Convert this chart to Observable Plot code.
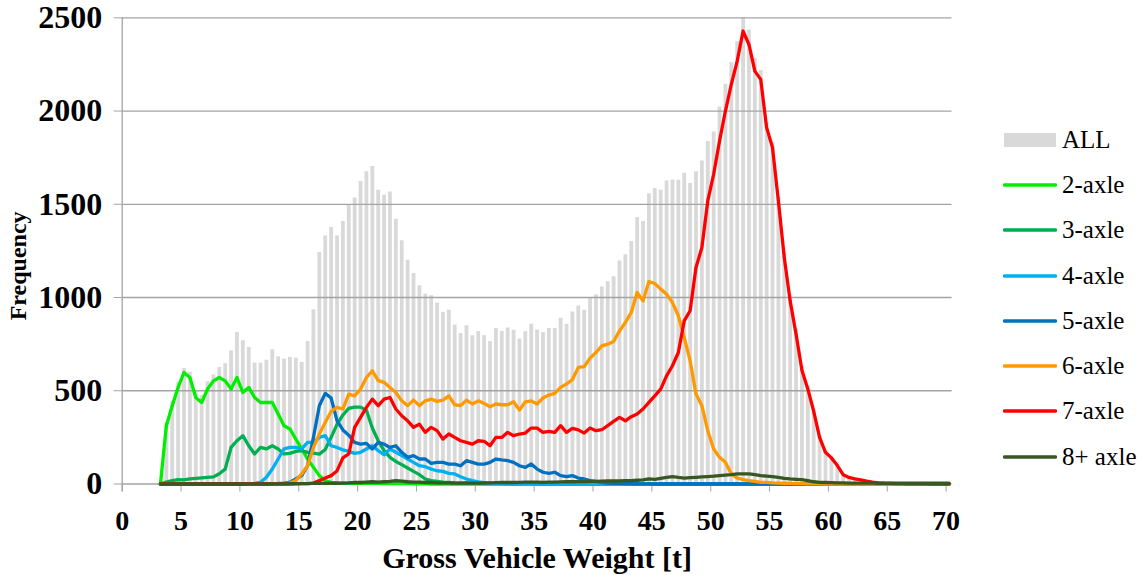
<!DOCTYPE html>
<html><head><meta charset="utf-8">
<script src="https://cdn.jsdelivr.net/npm/d3@7"></script>
<script src="https://cdn.jsdelivr.net/npm/@observablehq/plot@0.6"></script>
<style>
body{margin:0;background:#fff;font-family:"Liberation Serif","Times New Roman",Times,"DejaVu Serif",serif;}
#wrap{display:flex;width:1141px;height:575px;overflow:hidden;}
#legend{padding-top:117px;width:189px;}
.row{display:flex;align-items:center;height:45.3px;font-size:25px;color:#000;white-space:nowrap;}
.sw{margin-left:51px;margin-right:5px;width:54px;display:flex;align-items:center;}
svg text{font-family:"Liberation Serif","Times New Roman",Times,"DejaVu Serif",serif;}
</style></head>
<body><div id="wrap"><div id="chart"></div><div id="legend"></div></div>
<script>
// category centres of the 0.5 t weight bins (3.25 ... 70.25 t)
const bins = d3.range(3.25, 70.26, 0.5);
const xTicks = [0,5,10,15,20,25,30,35,40,45,50,55,60,65,70];
const yTicks = [0,500,1000,1500,2000,2500];

const all = [
 0,330,445,545,620,600,500,475,548,585,
 625,645,714,812,768,732,648,648,664,720,
 682,670,679,675,652,764,934,1241,1330,1375,
 1330,1408,1496,1534,1622,1675,1702,1575,1548,1566,
 1420,1304,1200,1129,1063,1018,1009,970,920,932,
 852,807,848,795,818,795,764,834,818,836,
 825,777,816,857,825,812,834,834,889,857,
 922,955,932,1000,1014,1057,1084,1111,1196,1229,
 1300,1429,1407,1557,1584,1575,1625,1630,1629,1666,
 1611,1675,1732,1836,1888,2021,2143,2259,2371,2500,
 2434,2282,2218,1940,1830,1540,1240,1010,830,630,
 530,400,260,180,150,105,55,40,32,25,
 18,12,8,5,4,3,2,2,1,1,
 1,1,0,0,0];
const axle2 = [
 0,312,420,518,598,571,464,437,509,553,
 571,553,509,571,491,518,464,437,437,437,
 375,312,295,241,188,134,89,45,18,9,
 6,5,4,4,3,3,3,3,2,2,
 2,2,2,1,1,1,0,0,0,0,
 0,0,0,0,0,0,0,0,0,0, 0,0,0,0,0,0,0,0,0,0,
 0,0,0,0,0,0,0,0,0,0, 0,0,0,0,0,0,0,0,0,0,
 0,0,0,0,0,0,0,0,0,0, 0,0,0,0,0,0,0,0,0,0,
 0,0,0,0,0,0,0,0,0,0, 0,0,0,0,0,0,0,0,0,0,
 0,0,0,0,0];
const axle3 = [
 0,10,18,23,22,27,30,33,36,38,
 55,80,196,232,259,205,161,196,188,205,
 188,161,164,175,179,170,165,160,185,250,
 320,370,405,412,412,395,300,232,179,143,
 121,104,86,68,50,27,18,14,10,8,
 6,5,4,3,3,2,2,2,2,1,
 1,1,1,1,0,0,0,0,0,0, 0,0,0,0,0,0,0,0,0,0,
 0,0,0,0,0,0,0,0,0,0, 0,0,0,0,0,0,0,0,0,0,
 0,0,0,0,0,0,0,0,0,0, 0,0,0,0,0,0,0,0,0,0,
 0,0,0,0,0,0,0,0,0,0, 0,0,0,0,0];
const axle4 = [
 0,0,0,0,0,0,0,0,0,0,
 0,0,0,0,0,1,3,9,36,80,
 134,188,196,196,188,223,223,250,259,205,
 196,183,175,164,170,188,205,179,157,188,
 170,152,134,116,98,93,80,71,68,57,
 54,39,27,18,12,7,4,3,2,2,
 1,1,1,0,0,0,0,0,0,0, 0,0,0,0,0,0,0,0,0,0,
 0,0,0,0,0,0,0,0,0,0, 0,0,0,0,0,0,0,0,0,0,
 0,0,0,0,0,0,0,0,0,0, 0,0,0,0,0,0,0,0,0,0,
 0,0,0,0,0,0,0,0,0,0, 0,0,0,0,0];
const axle5 = [
 0,0,0,0,0,0,0,0,0,0,
 0,0,0,0,0,0,0,0,0,2,
 3,5,10,27,45,98,250,420,486,461,
 340,290,262,223,214,218,188,223,214,196,
 205,170,143,152,134,134,111,116,116,107,
 107,98,125,116,107,107,116,134,129,125,
 116,98,89,107,80,63,57,63,45,39,
 45,32,27,18,14,9,5,4,3,2,
 2,1,1,1,0,0,0,0,0,0, 0,0,0,0,0,0,0,0,0,0,
 0,0,0,0,0,0,0,0,0,0, 0,0,0,0,0,0,0,0,0,0,
 0,0,0,0,0,0,0,0,0,0, 0,0,0,0,0];
const axle6 = [
 0,0,0,0,0,0,0,0,0,0,
 0,0,0,0,0,0,0,0,0,1,
 2,3,6,18,54,98,196,268,330,389,
 411,402,482,473,509,571,607,554,545,518,
 491,446,420,450,420,446,455,443,450,473,
 425,420,450,429,446,432,414,429,425,425,
 441,396,441,446,429,461,477,486,518,536,
 560,625,629,675,705,741,750,764,821,866,
 920,1027,982,1086,1075,1045,1018,973,902,786,
 661,482,420,286,188,143,116,54,32,23,
 18,14,9,9,6,5,4,3,2,2,
 1,1,1,0,0,0,0,0,0,0, 0,0,0,0,0,0,0,0,0,0,
 0,0,0,0,0];
const axle7 = [
 0,0,0,0,0,0,0,0,0,0,
 0,0,0,0,0,0,0,0,0,0,
 0,0,0,1,2,2,5,18,32,45,
 70,140,161,304,357,411,455,420,455,464,
 402,366,339,304,321,277,304,286,241,268,
 250,232,223,214,232,229,205,250,250,277,
 259,268,273,300,300,277,282,277,313,277,
 298,290,273,300,286,291,313,336,357,339,
 361,375,402,438,473,509,580,634,705,875,
 929,1161,1268,1518,1661,1839,2000,2143,2268,2429,
 2357,2214,2170,1911,1804,1518,1214,982,804,610,
 510,390,250,170,140,100,50,35,28,22,
 15,10,6,4,3,2,2,1,1,1,
 1,0,0,0,0];
const axle8 = [
 0,0,0,0,0,0,0,0,0,0,
 0,0,0,0,0,1,1,1,1,1,
 1,1,2,2,2,2,3,3,3,4,
 4,5,6,8,8,10,12,10,12,14,
 18,15,12,10,10,8,8,6,6,6,
 5,5,6,5,5,6,6,7,8,8,
 8,9,10,10,10,9,10,10,11,12,
 12,13,13,14,14,15,16,16,17,18,
 18,20,22,27,25,30,35,39,35,32,
 34,36,38,40,42,45,48,50,54,54,
 54,50,45,42,39,35,30,27,25,23,
 18,12,9,8,7,6,6,5,5,5,
 5,5,4,4,4,4,4,4,4,4,
 4,4,4,4,4];

const seriesNames = ["2-axle","3-axle","4-axle","5-axle","6-axle","7-axle","8+ axle"];
const seriesValues = [axle2, axle3, axle4, axle5, axle6, axle7, axle8];
const seriesColors = ["#00ee00","#00b050","#00b0f0","#0070c0","#ff9900","#ff0000","#385723"];
const allColor = "#d9d9d9";

const barRows = bins.map((w, i) => ({w, v: all[i]}));
const lineRows = seriesNames.flatMap((s, k) => bins.map((w, i) => ({s, w, v: seriesValues[k][i]})));

const font = '"Liberation Serif","Times New Roman",Times,"DejaVu Serif",serif';
const chart = Plot.plot({
  width: 952, height: 575,
  marginLeft: 121.7, marginRight: 0.5, marginTop: 17.3, marginBottom: 91.5,
  style: {fontFamily: font, background: "#fff", overflow: "visible"},
  x: {domain: [0, 70.5]},
  y: {domain: [0, 2500]},
  color: {domain: seriesNames, range: seriesColors},
  marks: [
    Plot.ruleX(barRows, {x: "w", y: "v", stroke: allColor, strokeWidth: 3.8}),
    Plot.ruleY(yTicks, {stroke: "#a3a3a3", strokeWidth: 1.3}),
    Plot.ruleX([0], {stroke: "#a3a3a3", strokeWidth: 1.3, insetBottom: -8}),
    Plot.axisY({ticks: yTicks, tickSize: 8, tickPadding: 12, stroke: "#a3a3a3", fill: "#000",
      fontSize: 32, fontWeight: "bold", label: null, tickFormat: d => String(d)}),
    Plot.axisX({ticks: xTicks, tickSize: 8, tickPadding: 18, stroke: "#a3a3a3", fill: "#000",
      fontSize: 28, fontWeight: "bold", label: null, tickFormat: d => String(d)}),
    Plot.line(lineRows, {x: "w", y: "v", z: "s", stroke: "s", strokeWidth: 3.3,
      strokeLinejoin: "round", strokeLinecap: "round"}),
    Plot.text(["Frequency"], {frameAnchor: "left", textAnchor: "middle", rotate: -90, dx: -104, dy: 15,
      fontSize: 24, fontWeight: "bold", fill: "#000"}),
    Plot.text(["Gross Vehicle Weight [t]"], {frameAnchor: "bottom", dy: 84,
      fontSize: 30, fontWeight: "bold", fill: "#000"})
  ]
});
document.getElementById("chart").appendChild(chart);

// legend
const leg = d3.select("#legend");
const allRow = leg.append("div").attr("class", "row");
allRow.append("div").attr("class", "sw").append("svg").attr("width", 54).attr("height", 16)
  .append("rect").attr("x", 1).attr("y", 1).attr("width", 52).attr("height", 14).attr("fill", allColor);
allRow.append("span").text("ALL");
seriesNames.forEach((s, k) => {
  const r = leg.append("div").attr("class", "row");
  r.append("div").attr("class", "sw").append("svg").attr("width", 54).attr("height", 8)
    .append("line").attr("x1", 1.5).attr("x2", 52.5).attr("y1", 4).attr("y2", 4)
    .attr("stroke", seriesColors[k]).attr("stroke-width", 3.5).attr("stroke-linecap", "round");
  r.append("span").text(s);
});
</script></body></html>
